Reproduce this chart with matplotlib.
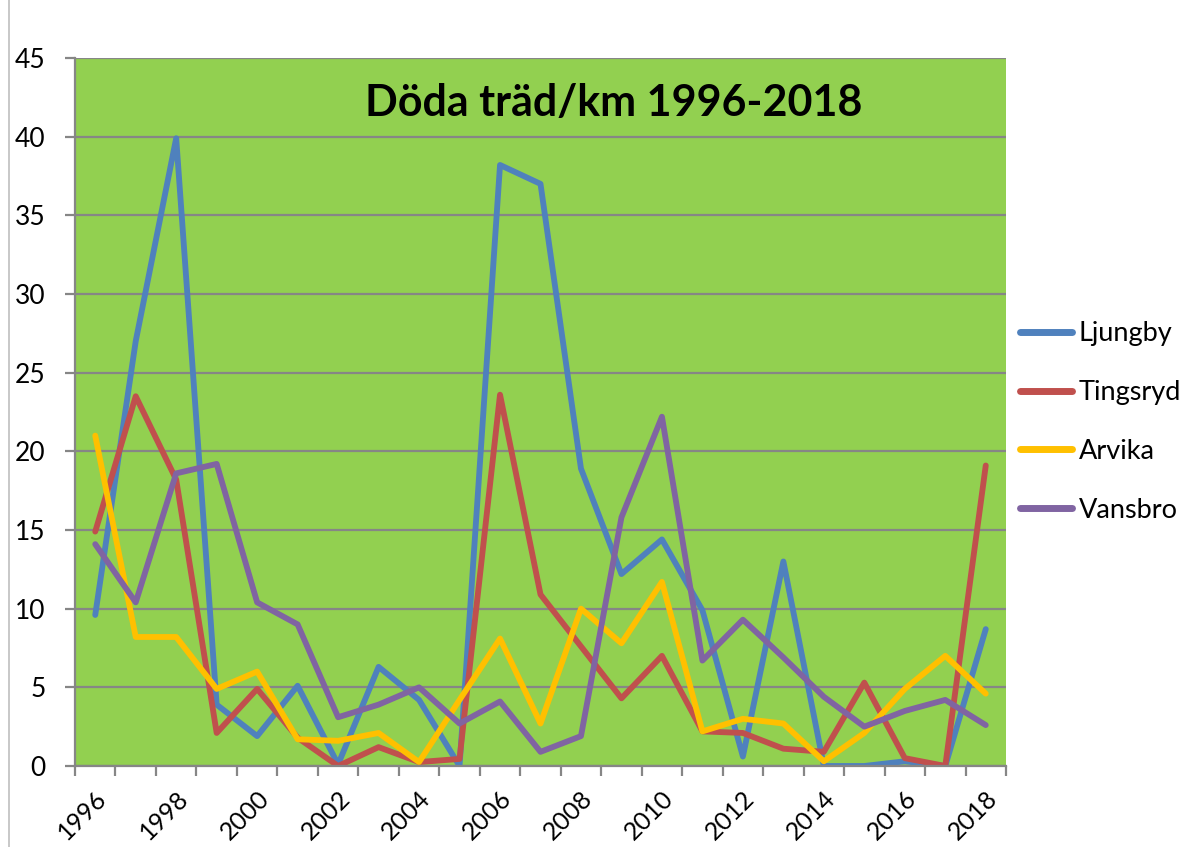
import matplotlib
matplotlib.use("Agg")
import matplotlib.pyplot as plt
import matplotlib.transforms as mtransforms
from matplotlib.lines import Line2D
import numpy as np

plt.rcParams['font.family'] = ['Lato', 'DejaVu Sans']

years = list(range(1996, 2019))
ljungby = [9.6, 27.0, 39.9, 3.9, 1.9, 5.1, 0.1, 6.3, 4.2, 0.0, 38.2, 37.0,
           18.9, 12.2, 14.4, 9.9, 0.6, 13.0, 0.0, 0.0, 0.3, 0.0, 8.7]
tingsryd = [14.9, 23.5, 18.2, 2.1, 4.9, 1.8, 0.0, 1.2, 0.25, 0.45, 23.6, 10.9,
            7.6, 4.3, 7.0, 2.2, 2.1, 1.1, 0.9, 5.3, 0.5, 0.0, 19.1]
arvika = [21.0, 8.2, 8.2, 4.9, 6.0, 1.7, 1.6, 2.1, 0.25, 4.2, 8.1, 2.7,
          10.0, 7.8, 11.7, 2.2, 3.0, 2.7, 0.3, 2.1, 4.9, 7.0, 4.6]
vansbro = [14.1, 10.4, 18.6, 19.2, 10.4, 9.0, 3.1, 3.9, 5.0, 2.7, 4.1, 0.9,
           1.9, 15.8, 22.2, 6.7, 9.3, 6.9, 4.4, 2.5, 3.5, 4.2, 2.6]

series = [("Ljungby", ljungby, "#4F81BD"),
          ("Tingsryd", tingsryd, "#C0504D"),
          ("Arvika", arvika, "#FFC000"),
          ("Vansbro", vansbro, "#8064A2")]

grid_col = "#868686"

fig = plt.figure(figsize=(11.98, 8.47), dpi=100)
ax = fig.add_axes([75/1198, 1-766/847, (1006-75)/1198, (766-58)/847])
ax.set_facecolor("#92D050")

x = np.arange(len(years))
for name, vals, col in series:
    ax.plot(x, vals, color=col, lw=4.2, label=name,
            solid_joinstyle='round', solid_capstyle='round')

ax.set_xlim(-0.5, len(years) - 0.5)
ax.set_ylim(0, 45)
ax.set_yticks(range(0, 46, 5))
ax.yaxis.grid(True, color=grid_col, lw=1.6)
ax.set_axisbelow(True)

# tick marks at category boundaries, year labels every other category
ax.set_xticks(np.arange(-0.5, len(years), 1.0))
ax.set_xticklabels([])
ax.tick_params(axis='x', length=7.2, width=1.6, color=grid_col)
ax.tick_params(axis='y', length=7.2, width=1.6, color=grid_col, labelsize=19, pad=14)

lab_trans = mtransforms.offset_copy(ax.get_xaxis_transform(), fig=fig,
                                    x=8, y=-29, units='dots')
for i in x[::2]:
    ax.text(i, 0, str(years[i]), transform=lab_trans, fontsize=18,
            rotation=45, rotation_mode='anchor', ha='right', va='center')

for side in ['top', 'right']:
    ax.spines[side].set_visible(False)
for side in ['left', 'bottom']:
    ax.spines[side].set_color(grid_col)
    ax.spines[side].set_linewidth(1.6)

fig.text(614/1198, 1-103/847, "Döda träd/km 1996-2018", fontsize=31,
         fontweight='bold', ha='center', va='center')

leg = ax.legend(loc='center left', bbox_to_anchor=(996/1198, 1-422/847),
                bbox_transform=fig.transFigure, frameon=False, fontsize=19.5,
                handlelength=1.9, handletextpad=0.25, labelspacing=1.25)
for h in leg.legend_handles:
    h.set_linewidth(5)

fig.add_artist(Line2D([9/1198, 9/1198], [0, 1], color="#BFBFBF", lw=1.2,
                      transform=fig.transFigure))

fig.savefig("out.png", dpi=100)
